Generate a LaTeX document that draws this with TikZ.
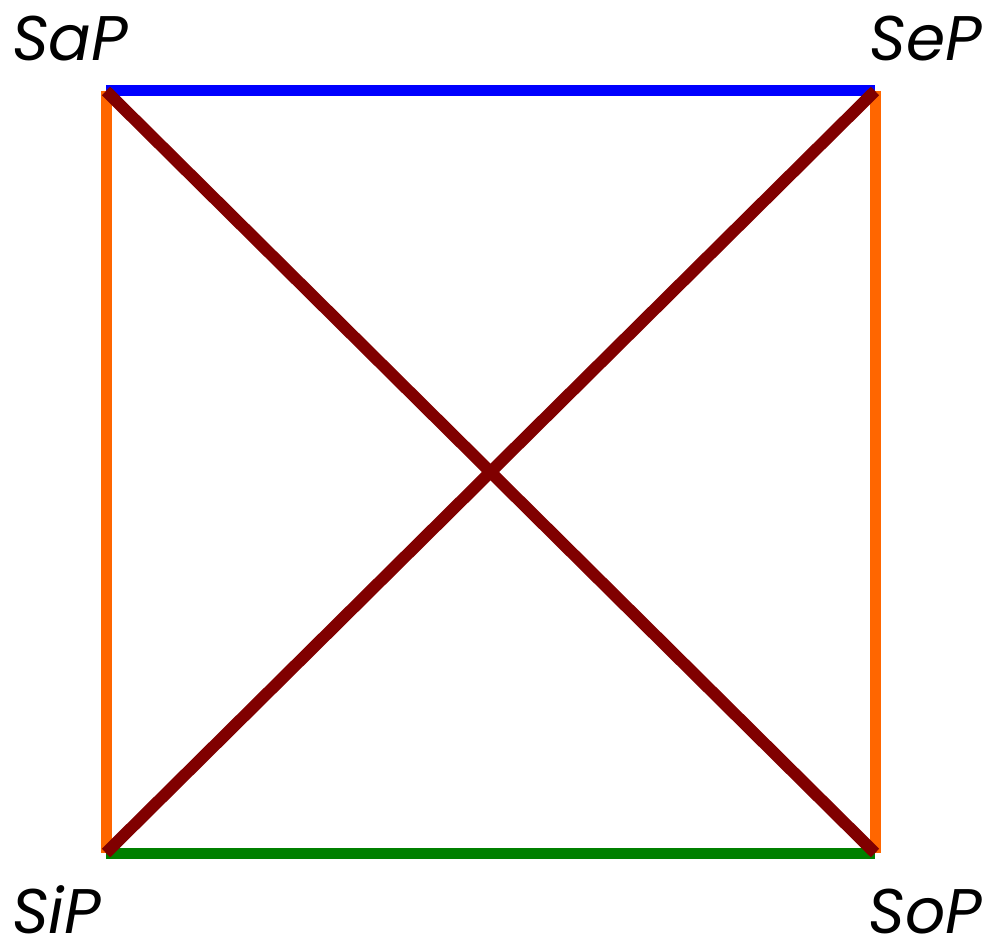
\documentclass[tikz,border=0pt]{standalone}
\usepackage{fontspec}
\newfontfamily\labelfont{Poppins}
\usetikzlibrary{positioning}
\definecolor{contrary}{RGB}{0,0,255}
\definecolor{subaltern}{RGB}{255,102,0}
\definecolor{subcontrary}{RGB}{0,128,0}
\definecolor{contradict}{RGB}{128,0,0}
\begin{document}
\begin{tikzpicture}[x=1pt,y=-1pt]
		\tikzstyle{corner} = [inner sep=0pt, font=\labelfont\itshape\fontsize{63}{63}\selectfont];
		\tikzstyle{sqline} = [line width=11pt, line cap=butt];
		\useasboundingbox (0,0) rectangle (988,947);
		\coordinate (a) at (106,91);
		\coordinate (e) at (875,91);
		\coordinate (i) at (106,853);
		\coordinate (o) at (875,853);
		\node (al) [corner, anchor=base west] at (12,61) {SaP};
		\node (el) [corner, anchor=base east] at (982,61) {SeP};
		\node (il) [corner, anchor=base west] at (12,933) {SiP};
		\node (ol) [corner, anchor=base east] at (982,933) {SoP};
		\draw[sqline, contrary] (a) -- (e);
		\draw[sqline, subcontrary] (i) -- (o);
		\draw[sqline, subaltern] (a) -- (i);
		\draw[sqline, subaltern] (e) -- (o);
		\draw[sqline, line width=12pt, contradict] (a) -- (o);
		\draw[sqline, line width=12pt, contradict] (e) -- (i);
	\end{tikzpicture}
\end{document}
